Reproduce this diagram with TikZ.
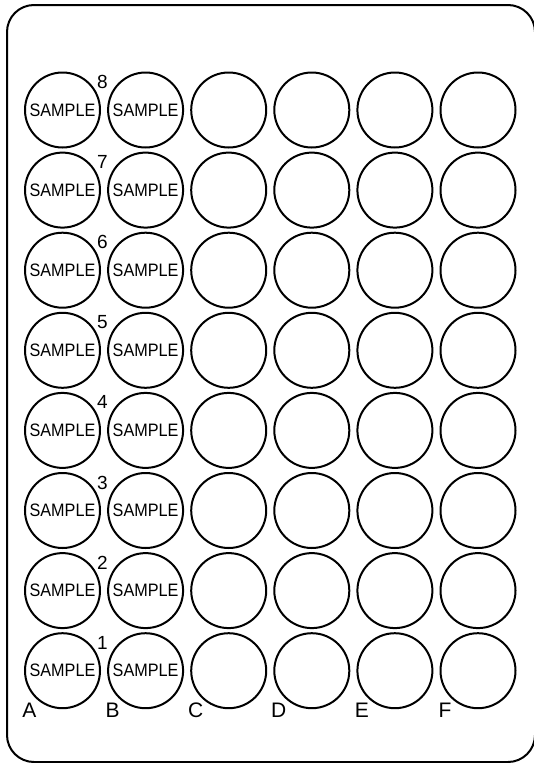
\documentclass[tikz,border=0pt]{standalone}
\usepackage{fontspec}
\setmainfont{Liberation Sans}
\newfontfamily\narrowsans{Liberation Sans}[FakeStretch=0.9]
\begin{document}
\begin{tikzpicture}[x=1pt,y=-1pt,
  well/.style={circle,draw,line width=2pt,minimum size=75pt,inner sep=0pt,font=\narrowsans\fontsize{18}{18}\selectfont},
  rowlbl/.style={font=\fontsize{19}{19}\selectfont,inner sep=0pt},
  collbl/.style={font=\fontsize{21}{21}\selectfont,inner sep=0pt}]
\useasboundingbox (0,0) rectangle (534,763);
\draw[line width=2pt,rounded corners=27pt] (7,5) rectangle (535,762);
\foreach \c [count=\i from 0] in {A,B,C,D,E,F}{
  \foreach \r in {1,...,8}{
    \pgfmathsetmacro{\xx}{62.5+83.1*\i}
    \pgfmathsetmacro{\yy}{110+80.1*(8-\r)}
    \ifnum\i<2
      \node[well] (\c\r) at (\xx,\yy) {SAMPLE};
    \else
      \node[well] (\c\r) at (\xx,\yy) {};
    \fi
  }
  \node[collbl] (lbl\c) at ([xshift=-33pt,yshift=-40pt]\c1.center) {\c};
}
\foreach \r in {1,...,8}{
  \node[rowlbl] (num\r) at ([xshift=40pt,yshift=28pt]A\r.center) {\r};
}
\end{tikzpicture}
\end{document}
